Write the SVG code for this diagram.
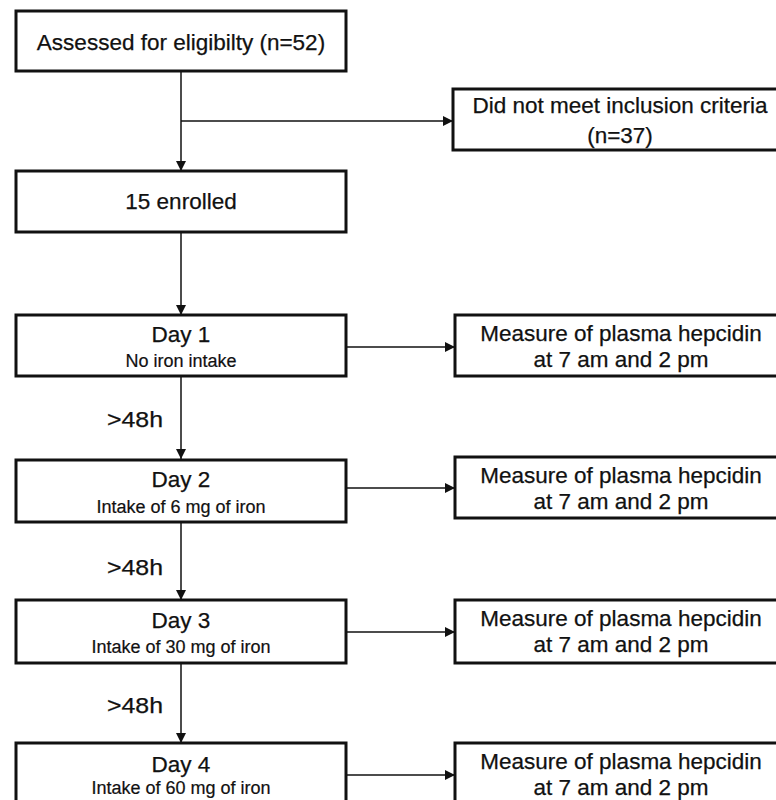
<svg xmlns="http://www.w3.org/2000/svg" width="776" height="800" viewBox="0 0 776 800">
<defs>
<marker id="ah" viewBox="0 0 10 10" refX="10" refY="5" markerWidth="10" markerHeight="10" markerUnits="userSpaceOnUse" orient="auto">
<path d="M0,0 L10,5 L0,10 Z" fill="#111"/>
</marker>
<style>
.box{fill:#fff;stroke:#111;stroke-width:3}
.t{font-family:"Liberation Sans",Arial,sans-serif;font-size:22.5px;fill:#111;stroke:#111;stroke-width:0.25;text-anchor:middle}
.s{font-family:"Liberation Sans",Arial,sans-serif;font-size:18px;fill:#111;stroke:#111;stroke-width:0.2;text-anchor:middle}
.h{font-family:"Liberation Sans",Arial,sans-serif;font-size:22px;fill:#111;stroke:#111;stroke-width:0.25;text-anchor:start}
.c{fill:none;stroke:#111;stroke-width:1.5}
</style>
</defs>
<rect width="776" height="800" fill="#fff"/>
<g id="connectors">
<line class="c" x1="181" y1="71" x2="181" y2="171" marker-end="url(#ah)"/>
<line class="c" x1="181" y1="121" x2="453" y2="121" marker-end="url(#ah)"/>
<line class="c" x1="181" y1="232" x2="181" y2="315" marker-end="url(#ah)"/>
<line class="c" x1="181" y1="376" x2="181" y2="459" marker-end="url(#ah)"/>
<line class="c" x1="181" y1="522" x2="181" y2="600" marker-end="url(#ah)"/>
<line class="c" x1="181" y1="663" x2="181" y2="743" marker-end="url(#ah)"/>
<line class="c" x1="346" y1="347" x2="455" y2="347" marker-end="url(#ah)"/>
<line class="c" x1="346" y1="488" x2="455" y2="488" marker-end="url(#ah)"/>
<line class="c" x1="346" y1="632" x2="455" y2="632" marker-end="url(#ah)"/>
<line class="c" x1="346" y1="775" x2="455" y2="775" marker-end="url(#ah)"/>
<text class="h" x="107" y="427" textLength="56" lengthAdjust="spacingAndGlyphs">&gt;48h</text>
<text class="h" x="107" y="575" textLength="56" lengthAdjust="spacingAndGlyphs">&gt;48h</text>
<text class="h" x="107" y="713" textLength="56" lengthAdjust="spacingAndGlyphs">&gt;48h</text>
</g>
<g id="assessed">
<rect class="box" x="16" y="11" width="330" height="60"/>
<text class="t" x="181" y="50">Assessed for eligibilty (n=52)</text>
</g>
<g id="excluded">
<rect class="box" x="453" y="89" width="332" height="61"/>
<text class="t" x="620" y="113">Did not meet inclusion criteria</text>
<text class="t" x="620" y="143">(n=37)</text>
</g>
<g id="enrolled">
<rect class="box" x="16" y="171" width="330" height="61"/>
<text class="t" x="181" y="209">15 enrolled</text>
</g>
<g id="day1">
<rect class="box" x="16" y="315" width="330" height="61"/>
<text class="t" x="181" y="342">Day 1</text>
<text class="s" x="181" y="367">No iron intake</text>
</g>
<g id="measure1">
<rect class="box" x="455" y="315" width="332" height="61"/>
<text class="t" x="621" y="341">Measure of plasma hepcidin</text>
<text class="t" x="621" y="367">at 7 am and 2 pm</text>
</g>
<g id="day2">
<rect class="box" x="16" y="460" width="330" height="62"/>
<text class="t" x="181" y="487">Day 2</text>
<text class="s" x="181" y="513">Intake of 6 mg of iron</text>
</g>
<g id="measure2">
<rect class="box" x="455" y="457" width="332" height="61"/>
<text class="t" x="621" y="483">Measure of plasma hepcidin</text>
<text class="t" x="621" y="509">at 7 am and 2 pm</text>
</g>
<g id="day3">
<rect class="box" x="16" y="600" width="330" height="63"/>
<text class="t" x="181" y="628">Day 3</text>
<text class="s" x="181" y="653">Intake of 30 mg of iron</text>
</g>
<g id="measure3">
<rect class="box" x="455" y="600" width="332" height="63"/>
<text class="t" x="621" y="626">Measure of plasma hepcidin</text>
<text class="t" x="621" y="652">at 7 am and 2 pm</text>
</g>
<g id="day4">
<rect class="box" x="16" y="743" width="330" height="63"/>
<text class="t" x="181" y="772">Day 4</text>
<text class="s" x="181" y="794">Intake of 60 mg of iron</text>
</g>
<g id="measure4">
<rect class="box" x="455" y="743" width="332" height="63"/>
<text class="t" x="621" y="769">Measure of plasma hepcidin</text>
<text class="t" x="621" y="795">at 7 am and 2 pm</text>
</g>
</svg>
